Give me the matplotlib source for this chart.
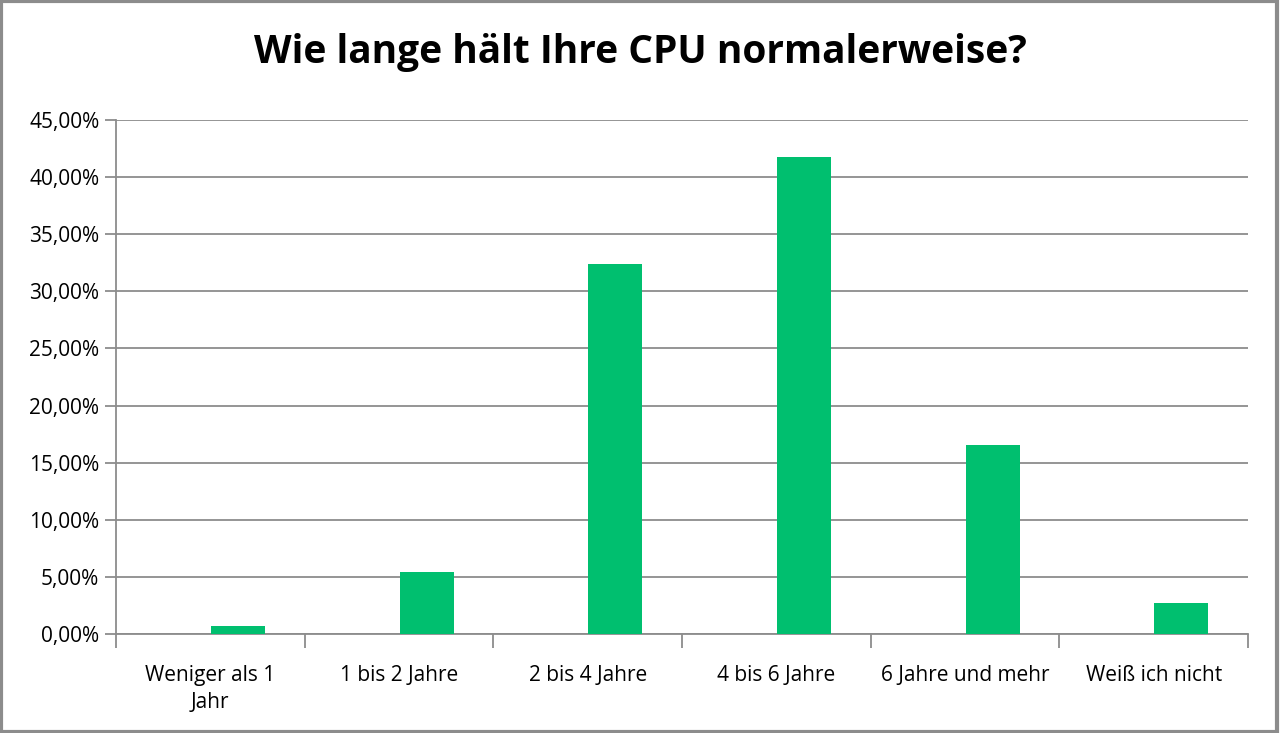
import numpy as np
import matplotlib
matplotlib.use("Agg")
import matplotlib.pyplot as plt
from matplotlib.patches import Rectangle

categories = ["Weniger als 1\nJahr", "1 bis 2 Jahre", "2 bis 4 Jahre",
              "4 bis 6 Jahre", "6 Jahre und mehr", "Weiß ich nicht"]
shares = [0.7, 5.45, 32.35, 41.8, 16.55, 2.75]  # percent
yticks = np.arange(0, 46, 5)

plt.rcParams["font.family"] = ["Open Sans", "DejaVu Sans"]

fig = plt.figure(figsize=(12.8, 7.33), dpi=100)
ax = fig.add_axes([116 / 1280, 99 / 733, 1132 / 1280, 514 / 733])

x = np.arange(len(categories))
ax.bar(x + 0.146, shares, width=0.286, color="#00BF6F", zorder=3)

ax.set_xlim(-0.5, len(categories) - 0.5)
ax.set_ylim(0, 45)
ax.set_yticks(yticks)
ax.set_yticklabels([f"{v:.2f}%".replace(".", ",") for v in yticks], fontsize=15)
ax.yaxis.grid(True, color="#8c8c8c", linewidth=1.3, zorder=0)

# category boundary ticks, labels centred in each category
ax.set_xticks(np.arange(-0.5, len(categories), 1.0))
ax.set_xticklabels([])
ax.set_xticks(x, minor=True)
ax.set_xticklabels(categories, minor=True, fontsize=15, linespacing=1.4)
ax.tick_params(axis="x", which="major", length=10, width=1.3, color="#8c8c8c")
ax.tick_params(axis="x", which="minor", length=0, pad=22)
ax.tick_params(axis="y", length=8, width=1.3, color="#8c8c8c", pad=4)

for side in ["top", "right"]:
    ax.spines[side].set_visible(False)
for side in ["left", "bottom"]:
    ax.spines[side].set_color("#8c8c8c")
    ax.spines[side].set_linewidth(1.3)

fig.text(0.5, 1 - 52 / 733, "Wie lange hält Ihre CPU normalerweise?",
         ha="center", va="center", fontsize=28, fontweight="bold")

# outer chart border
fig.patches.append(Rectangle((0.001, 0.002), 0.997, 0.996, transform=fig.transFigure,
                             fill=False, edgecolor="#8c8c8c", linewidth=3))

fig.savefig("out.png", dpi=100)
